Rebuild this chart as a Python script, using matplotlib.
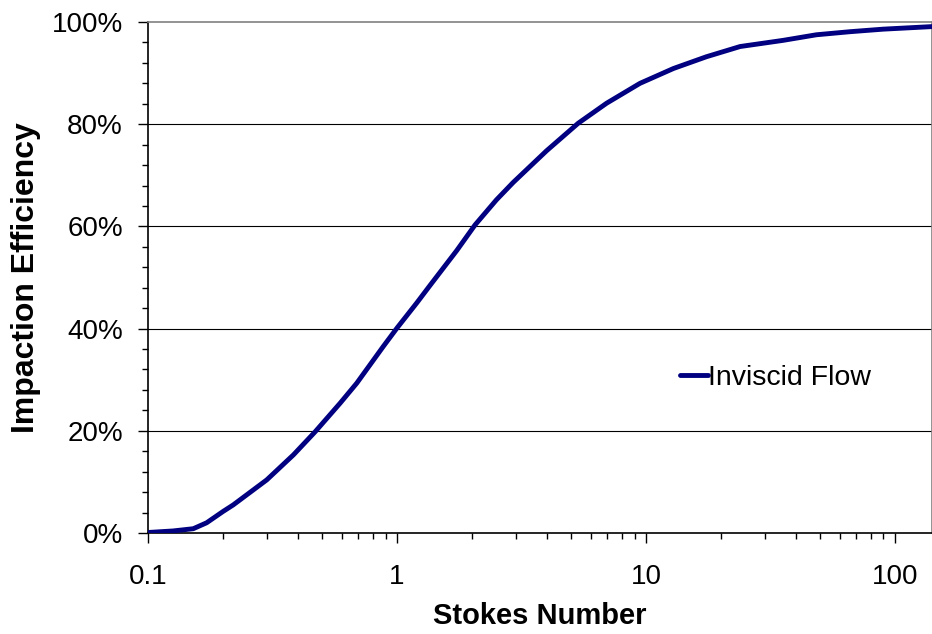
import matplotlib
matplotlib.use("Agg")
import matplotlib.pyplot as plt
from matplotlib.ticker import FixedLocator, FixedFormatter, LogLocator, NullFormatter

plt.rcParams["font.family"] = ["Liberation Sans", "DejaVu Sans"]

# Curve
stokes = [0.1, 0.126, 0.152, 0.172, 0.2, 0.22, 0.3, 0.384, 0.469, 0.591, 0.689,
          0.881, 1.0, 1.2, 1.36, 1.74, 2.06, 2.51, 2.93, 3.99, 5.35, 6.95,
          9.47, 12.9, 17.5, 23.9, 35.5, 48.4, 66.0, 89.8, 141.0]
efficiency = [0.1, 0.4, 0.84, 2.0, 4.2, 5.5, 10.4, 15.3, 19.8, 25.4, 29.3, 36.5,
              40.1, 45.0, 48.5, 55.3, 60.3, 65.2, 68.6, 74.8, 80.2, 84.1, 88.0,
              90.9, 93.2, 95.2, 96.4, 97.5, 98.1, 98.6, 99.1]
series_name = "Inviscid Flow"
y_ticks = [0, 20, 40, 60, 80, 100]
x_ticks = [0.1, 1, 10, 100]
x_tick_labels = ["0.1", "1", "10", "100"]

fig = plt.figure(figsize=(9.32, 6.34), dpi=100)
ax = fig.add_axes([148 / 932, 1 - 533 / 634, 1 - 148 / 932, (533 - 22) / 634])

ax.plot(stokes, efficiency, color="#000080", lw=3.5, label=series_name,
        solid_capstyle="round", solid_joinstyle="round", zorder=3)

ax.set_xscale("log")
ax.set_xlim(0.1, 141)
ax.set_ylim(0, 100)

ax.xaxis.set_major_locator(FixedLocator(x_ticks))
ax.xaxis.set_major_formatter(FixedFormatter(x_tick_labels))
ax.xaxis.set_minor_locator(LogLocator(base=10, subs=range(2, 10)))
ax.xaxis.set_minor_formatter(NullFormatter())

ax.yaxis.set_major_locator(FixedLocator(y_ticks))
ax.yaxis.set_major_formatter(FixedFormatter([f"{v}%" for v in y_ticks]))
ax.yaxis.set_minor_locator(FixedLocator([v for v in range(0, 101, 4) if v % 20]))

ax.tick_params(which="major", direction="out", length=7, width=1,
               labelsize=20, colors="black")
ax.tick_params(axis="y", which="major", pad=11)
ax.tick_params(axis="x", which="major", pad=15)
ax.tick_params(which="minor", direction="out", length=4.5, width=1)

for v in y_ticks[1:-1]:
    ax.axhline(v, color="black", lw=0.8, zorder=1)

ax.spines["left"].set_color("black")
ax.spines["bottom"].set_color("black")
ax.spines["top"].set_color("#808080")
ax.spines["right"].set_color("#808080")
for s in ax.spines.values():
    s.set_linewidth(1.2)

ax.set_xlabel("Stokes Number", fontsize=21, fontweight="bold", labelpad=9)
ax.set_ylabel("Impaction Efficiency", fontsize=23, fontweight="bold", labelpad=8)

ax.legend(loc="center left", bbox_to_anchor=(0.66, 0.303), frameon=False,
          fontsize=20.5, handlelength=1.0, handletextpad=0.0, borderpad=0)

fig.savefig("out.png", dpi=100)
